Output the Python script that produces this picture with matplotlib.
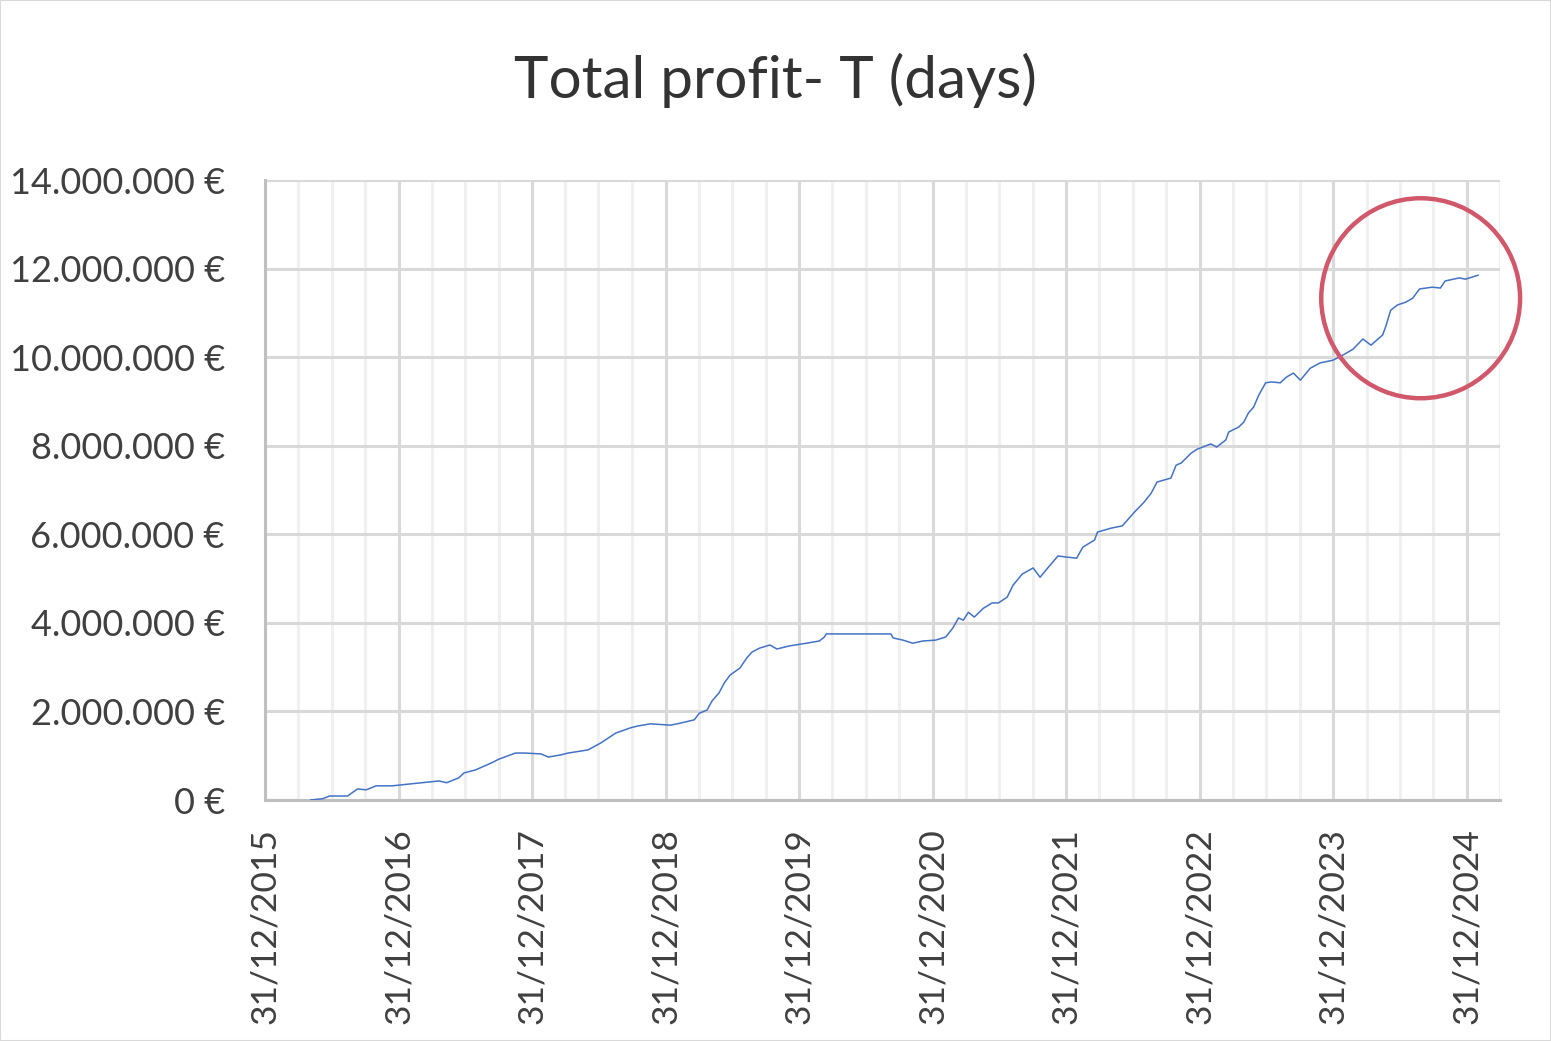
import matplotlib
matplotlib.use('Agg')
import matplotlib.pyplot as plt
import matplotlib.dates as mdates
import matplotlib.ticker as mticker
from matplotlib.patches import Ellipse, Rectangle
import pandas as pd

# values (profit in millions of euro)
dates = [
    '2016-05-04', '2016-06-06', '2016-06-25', '2016-08-13', '2016-09-09', '2016-10-03',
    '2016-10-30', '2016-12-13', '2017-01-28', '2017-03-04', '2017-04-20', '2017-05-11',
    '2017-06-13', '2017-06-27', '2017-07-29', '2017-09-11', '2017-09-30', '2017-11-15',
    '2017-12-12', '2018-01-24', '2018-02-13', '2018-03-20', '2018-04-08', '2018-06-01',
    '2018-07-07', '2018-08-16', '2018-09-26', '2018-10-15', '2018-11-19', '2019-01-13',
    '2019-02-01', '2019-03-19', '2019-04-02', '2019-04-23', '2019-05-07', '2019-05-26',
    '2019-06-09', '2019-06-25', '2019-07-22', '2019-08-10', '2019-08-24', '2019-09-14',
    '2019-10-12', '2019-10-31', '2019-12-05', '2020-01-20', '2020-02-24', '2020-03-09',
    '2020-03-14', '2020-09-07', '2020-09-13', '2020-10-10', '2020-11-06', '2020-12-03',
    '2021-01-07', '2021-02-04', '2021-02-23', '2021-03-11', '2021-03-24', '2021-04-07',
    '2021-04-23', '2021-05-18', '2021-06-11', '2021-06-28', '2021-07-22', '2021-08-07',
    '2021-09-01', '2021-10-01', '2021-10-20', '2021-11-10', '2021-12-08', '2021-12-27',
    '2022-01-28', '2022-02-14', '2022-03-18', '2022-03-26', '2022-05-03', '2022-06-02',
    '2022-07-05', '2022-08-01', '2022-08-20', '2022-09-05', '2022-10-13', '2022-10-27',
    '2022-11-10', '2022-12-07', '2022-12-23', '2023-01-30', '2023-02-15', '2023-03-12',
    '2023-03-20', '2023-04-16', '2023-04-30', '2023-05-13', '2023-05-27', '2023-06-10',
    '2023-06-29', '2023-07-15', '2023-08-08', '2023-08-25', '2023-09-13', '2023-10-02',
    '2023-10-29', '2023-11-25', '2023-12-30', '2024-01-27', '2024-02-23', '2024-03-21',
    '2024-04-12', '2024-05-14', '2024-05-22', '2024-06-05', '2024-06-24', '2024-07-16',
    '2024-08-04', '2024-08-23', '2024-09-27', '2024-10-19', '2024-11-01', '2024-12-10',
    '2024-12-26', '2025-01-30',
]
profit_m = [
    0.00, 0.03, 0.09, 0.09, 0.25, 0.23,
    0.32, 0.32, 0.36, 0.39, 0.43, 0.39,
    0.50, 0.61, 0.68, 0.84, 0.92, 1.06,
    1.06, 1.04, 0.97, 1.02, 1.06, 1.13,
    1.29, 1.51, 1.63, 1.67, 1.72, 1.69,
    1.72, 1.81, 1.96, 2.03, 2.24, 2.42,
    2.64, 2.82, 2.98, 3.21, 3.34, 3.43,
    3.50, 3.41, 3.48, 3.54, 3.59, 3.68,
    3.75, 3.75, 3.66, 3.61, 3.54, 3.59,
    3.61, 3.68, 3.88, 4.11, 4.06, 4.24,
    4.13, 4.33, 4.45, 4.45, 4.58, 4.85,
    5.10, 5.24, 5.03, 5.24, 5.51, 5.49,
    5.46, 5.71, 5.87, 6.05, 6.14, 6.19,
    6.50, 6.73, 6.93, 7.18, 7.27, 7.56,
    7.61, 7.83, 7.92, 8.04, 7.97, 8.13,
    8.31, 8.42, 8.53, 8.74, 8.87, 9.14,
    9.42, 9.44, 9.42, 9.55, 9.64, 9.48,
    9.75, 9.87, 9.93, 10.05, 10.18, 10.41,
    10.27, 10.50, 10.68, 11.06, 11.18, 11.24,
    11.33, 11.54, 11.58, 11.56, 11.72, 11.79,
    11.76, 11.85,
]

title = 'Total profit- T (days)'
x_start, x_end = '2015-12-31', '2025-03-12'
y_ticks = [0, 2e6, 4e6, 6e6, 8e6, 10e6, 12e6, 14e6]

# highlight circle (centre date, centre value in M)
circle_date = '2024-08-26'
circle_value_m = 11.33

plt.rcParams['font.family'] = ['Lato', 'DejaVu Sans']
text_col = '#404040'
grid_col = '#D9D9D9'

fig = plt.figure(figsize=(15.51, 10.41), dpi=100)
ax = fig.add_axes([265 / 1551, 1 - 800 / 1041, 1235 / 1551, 620 / 1041])

x = pd.to_datetime(dates)
y = [v * 1e6 for v in profit_m]
ax.plot(x, y, color='#4472C4', lw=1.1, zorder=3)

ax.set_xlim(pd.Timestamp(x_start), pd.Timestamp(x_end))
ax.set_ylim(0, 14e6)

major = pd.date_range('2015-12-31', '2024-12-31', freq='YE')
minor = [d for d in pd.date_range('2016-03-31', '2025-03-31', freq='QE') if d.month != 12]
ax.set_xticks(major)
ax.set_xticks(minor, minor=True)
ax.xaxis.set_major_formatter(mdates.DateFormatter('%d/%m/%Y'))
ax.set_yticks(y_ticks)
ax.yaxis.set_major_formatter(mticker.FuncFormatter(lambda v, p: f"{int(round(v)):,}".replace(',', '.') + ' €'))

ax.grid(True, which='major', axis='both', color=grid_col, lw=2.2, zorder=1)
ax.grid(True, which='minor', axis='x', color='#F0F0F0', lw=2.2, zorder=0)
ax.set_axisbelow(True)

ax.tick_params(axis='both', which='both', length=0)
ax.tick_params(axis='y', labelsize=26, labelcolor=text_col, pad=29)
ax.tick_params(axis='x', labelsize=25.5, labelcolor=text_col, pad=20, labelrotation=90)

for s in ['top', 'right']:
    ax.spines[s].set_visible(False)
for s in ['left', 'bottom']:
    ax.spines[s].set_color('#BFBFBF')
    ax.spines[s].set_linewidth(2.2)

fig.text(0.5, 1 - 98 / 1041, title, ha='center', va='baseline', fontsize=42, color='#333333')

# red highlight circle, 100 px radius
days_per_px = 3288 / (1474 - 265)
m_per_px = 14 / 620
circ = Ellipse((mdates.date2num(pd.Timestamp(circle_date)), circle_value_m * 1e6),
               width=2 * 100 * days_per_px, height=2 * 100 * m_per_px * 1e6,
               fill=False, edgecolor='#D0586A', lw=3.2, clip_on=False, zorder=5)
ax.add_patch(circ)

fig.patches.append(Rectangle((0, 0), 1, 1, transform=fig.transFigure, fill=False,
                             edgecolor='#D9D9D9', lw=1.5))

fig.savefig('out.png', dpi=100)
